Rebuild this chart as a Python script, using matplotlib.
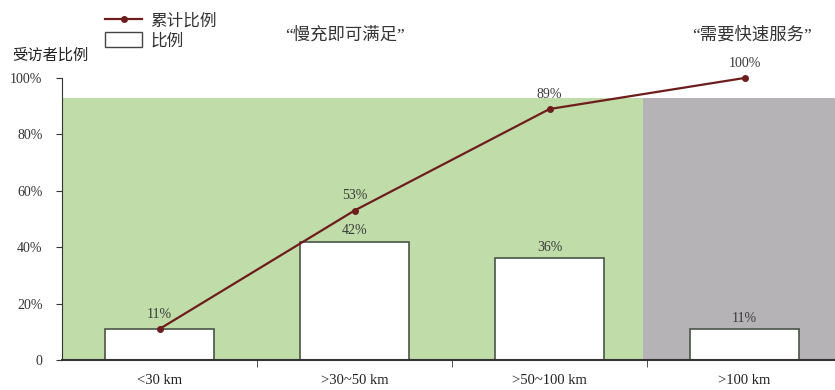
import matplotlib.pyplot as plt
from matplotlib.lines import Line2D
from matplotlib.patches import Patch
import numpy as np

plt.rcParams['font.family'] = ['Liberation Serif', 'Noto Sans CJK SC']

# Data
categories = ['<30 km', '>30~50 km', '>50~100 km', '>100 km']
share = [11, 42, 36, 11]          # 比例
cumulative = [11, 53, 89, 100]    # 累计比例
y_ticks = [0, 20, 40, 60, 80, 100]
y_tick_labels = ['0', '20%', '40%', '60%', '80%', '100%']

fig = plt.figure(figsize=(8.35, 3.9), dpi=100)
ax = fig.add_axes([62 / 835, 30 / 390, 773 / 835, 282 / 390])

x = np.arange(len(categories))
ax.set_xlim(-0.5, 3.464)
ax.set_ylim(0, 100)

# background regions
ax.axvspan(-0.5, 2.48, ymax=0.93, color='#bfdca9', lw=0, zorder=0)
ax.axvspan(2.48, 3.464, ymax=0.93, color='#b5b3b5', lw=0, zorder=0)

# bars
ax.bar(x, share, width=0.56, color='white', edgecolor='#4a5548', lw=1.2, zorder=2)
for xi, v, c in zip(x, share, cumulative):
    if v != c:
        ax.text(xi, v + 1.5, f'{v}%', ha='center', va='bottom', fontsize=10, color='#3a3a3a')

# cumulative line
ax.plot(x, cumulative, color='#6e1d1d', lw=1.6, marker='o', markersize=4, zorder=3, clip_on=False)
for xi, c in zip(x, cumulative):
    ax.text(xi, c + 3, f'{c}%', ha='center', va='bottom', fontsize=10, color='#3a3a3a')

ax.set_yticks(y_ticks)
ax.set_yticklabels(y_tick_labels, fontsize=10, color='#333333')
ax.set_xticks(x)
ax.set_xticklabels(categories, fontsize=10.5, color='#222222')
ax.set_xticks([0.5, 1.5, 2.5], minor=True)
ax.tick_params(axis='x', which='major', length=0, pad=10)
ax.tick_params(axis='x', which='minor', length=5, color='#333333')
ax.tick_params(axis='y', length=4, color='#333333', pad=10)

for s in ['top', 'right']:
    ax.spines[s].set_visible(False)
ax.spines['left'].set_color('#333333')
ax.spines['bottom'].set_color('#333333')
ax.spines['bottom'].set_linewidth(1.5)

# annotations
fig.text(345 / 835, 1 - 35 / 390, '“慢充即可满足”', ha='center', va='center',
         fontsize=12.5, color='#333333')
fig.text(752 / 835, 1 - 35 / 390, '“需要快速服务”', ha='center', va='center',
         fontsize=12.5, color='#333333')
fig.text(12 / 835, 1 - 56 / 390, '受访者比例', ha='left', va='center',
         fontsize=11, color='#222222')

handles = [Line2D([0], [0], color='#6e1d1d', lw=1.6, marker='o', markersize=4),
           Patch(facecolor='white', edgecolor='#444444', lw=1)]
fig.legend(handles, ['累计比例', '比例'], loc='upper left',
           bbox_to_anchor=(97 / 835, 1 - 4 / 390), frameon=False,
           fontsize=12, handlelength=2.2, handleheight=1.0, handletextpad=0.5,
           labelspacing=0.15, borderpad=0, labelcolor='#333333')

fig.savefig('out.png', dpi=100)
